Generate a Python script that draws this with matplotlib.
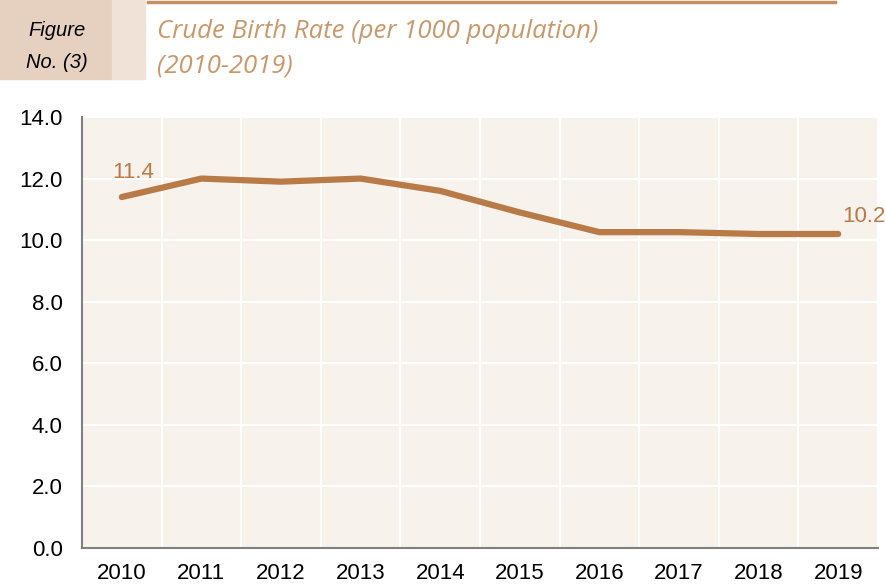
import numpy as np
import matplotlib.pyplot as plt
from matplotlib.patches import Rectangle
from matplotlib.lines import Line2D

years = ['2010', '2011', '2012', '2013', '2014', '2015', '2016', '2017', '2018', '2019']
birth_rate = [11.4, 12.0, 11.9, 12.0, 11.6, 10.9, 10.26, 10.26, 10.2, 10.2]
y_ticks = [0, 2, 4, 6, 8, 10, 12, 14]

line_color = '#B87A47'
title_color = '#C8986A'
bg_color = '#F7F2EC'

plt.rcParams['font.family'] = ['Liberation Sans', 'DejaVu Sans']

fig = plt.figure(figsize=(8.86, 5.88), dpi=100)

# header boxes and rule
fig.patches.append(Rectangle((0, 1 - 79 / 588), 112 / 886, 79 / 588, transform=fig.transFigure,
                             color='#E6D0BF', zorder=0))
fig.patches.append(Rectangle((112 / 886, 1 - 79 / 588), 33 / 886, 79 / 588, transform=fig.transFigure,
                             color='#F0E2D6', zorder=0))
fig.lines.append(Line2D([148 / 886, 835 / 886], [1 - 1.5 / 588, 1 - 1.5 / 588], transform=fig.transFigure,
                        color='#C39066', lw=2.5))
fig.text(57 / 886, 1 - 31 / 588, 'Figure', ha='center', va='center', style='italic', fontsize=14.5)
fig.text(57 / 886, 1 - 63 / 588, 'No. (3)', ha='center', va='center', style='italic', fontsize=14.5)
fig.text(157 / 886, 1 - 31 / 588, 'Crude Birth Rate (per 1000 population)', ha='left', va='center',
         style='italic', fontsize=18.5, color=title_color, family='Open Sans')
fig.text(157 / 886, 1 - 66 / 588, '(2010-2019)', ha='left', va='center',
         style='italic', fontsize=18.5, color=title_color, family='Open Sans')

ax = fig.add_axes([82 / 886, 40 / 588, 796 / 886, 431 / 588])
ax.set_facecolor(bg_color)
x = np.arange(len(years))
ax.plot(x, birth_rate, color=line_color, lw=4.5, solid_capstyle='round', zorder=3)

ax.set_xlim(-0.5, len(years) - 0.5)
ax.set_ylim(0, 14)
ax.set_xticks(x)
ax.set_xticklabels(years)
ax.set_xticks(np.arange(len(years) + 1) - 0.5, minor=True)
ax.set_yticks(y_ticks)
ax.set_yticklabels([f'{v:.1f}' for v in y_ticks])
ax.tick_params(axis='both', which='both', length=0, labelsize=16)
ax.tick_params(axis='x', pad=11)
ax.tick_params(axis='y', pad=14)
ax.grid(True, axis='y', which='major', color='white', lw=1.5)
ax.grid(True, axis='x', which='minor', color='white', lw=1.5)
ax.set_axisbelow(True)
for side in ['top', 'right']:
    ax.spines[side].set_visible(False)
for side in ['left', 'bottom']:
    ax.spines[side].set_color('#808080')
    ax.spines[side].set_linewidth(1.5)

ax.annotate(f'{birth_rate[0]:.1f}', (x[0], birth_rate[0]), xytext=(-7, 10), textcoords='offset points',
            ha='left', va='bottom', fontsize=16, color=line_color)
ax.annotate(f'{birth_rate[-1]:.1f}', (x[-1], birth_rate[-1]), xytext=(3, 5), textcoords='offset points',
            ha='left', va='bottom', fontsize=16, color=line_color)

fig.savefig('out.png', dpi=100)
